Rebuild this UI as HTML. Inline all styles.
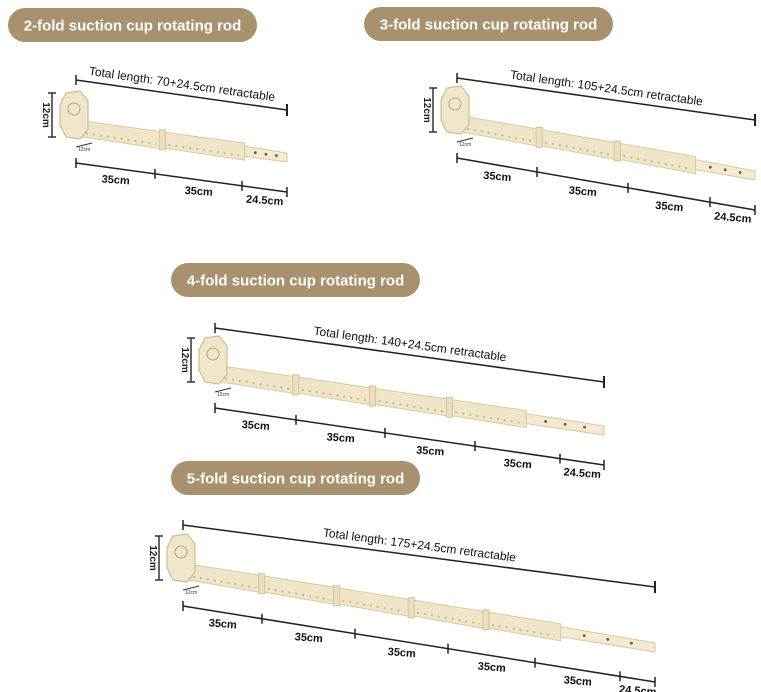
<!DOCTYPE html>
<html><head><meta charset="utf-8"><style>
html,body{margin:0;padding:0;background:#fff;width:761px;height:692px;overflow:hidden}
svg{display:block}
text{font-family:"Liberation Sans",sans-serif}
</style></head><body>
<svg id="s" width="761" height="692" viewBox="0 0 761 692" xmlns="http://www.w3.org/2000/svg"></svg>
<script>
const titles=["2-fold suction cup rotating rod","3-fold suction cup rotating rod","4-fold suction cup rotating rod","5-fold suction cup rotating rod"];
const totals=["Total length: 70+24.5cm retractable","Total length: 105+24.5cm retractable","Total length: 140+24.5cm retractable","Total length: 175+24.5cm retractable"];
const segCounts=[2,3,4,5];
// layout geometry
const pills=[[8,8],[364,7],[171,263],[171,461]];
const geo=[
 {x0:76,x1:287,ty0:80,ty1:110,by0:163,by1:192,ticks:[155,242]},
 {x0:457,x1:755,ty0:78,ty1:120,by0:158,by1:210,ticks:[537,628,710]},
 {x0:215,x1:604,ty0:328,ty1:382,by0:408,by1:465,ticks:[296,385,475,560]},
 {x0:183,x1:655,ty0:525,ty1:587,by0:606,by1:682,ticks:[262,355,448,535,620]}
];
const NS="http://www.w3.org/2000/svg";
const s=document.getElementById('s');
function mk(tag,at,parent){const e=document.createElementNS(NS,tag);for(const k in at)e.setAttribute(k,at[k]);(parent||s).appendChild(e);return e;}
geo.forEach((g,i)=>{
 const grp=mk('g',{});
 
 
 const [px,py]=pills[i];
 const pill=mk('rect',{x:px,y:py,width:249,height:34,rx:17,fill:'#a8916f'},grp);
 
 
 const tt=mk('text',{x:px+124.5,y:py+22.5,'text-anchor':'middle','font-size':'15','font-weight':'bold',fill:'#fff'},grp);
 tt.textContent=titles[i];
 
 
 const ts=(g.ty1-g.ty0)/(g.x1-g.x0), bs=(g.by1-g.by0)/(g.x1-g.x0);
 const ty=x=>g.ty0+ts*(x-g.x0), by=x=>g.by0+bs*(x-g.x0);
 mk('line',{x1:g.x0,y1:g.ty0,x2:g.x1,y2:g.ty1,stroke:'#222','stroke-width':1.5},grp);
 mk('line',{x1:g.x0,y1:g.ty0-5,x2:g.x0,y2:g.ty0+5,stroke:'#222','stroke-width':1.5},grp);
 mk('line',{x1:g.x1,y1:g.ty1-6,x2:g.x1,y2:g.ty1+6,stroke:'#222','stroke-width':2},grp);
 const ang=Math.atan(ts)*180/Math.PI;
 const lx=g.x0+(g.x1-g.x0)*0.5;
 const tl=mk('text',{x:lx,y:ty(lx)-7,'text-anchor':'middle','font-size':'12',fill:'#111',transform:`rotate(${ang} ${lx} ${ty(lx)-7})`},grp);
 tl.textContent=totals[i];
 
 
 // rod
 const rs=g.x0+4, re=g.x1, tipStart=g.x1-(g.x1-g.x0)*0.2;
 const ry=x=>by(x)-36;
 const n=segCounts[i];
 const segW=(tipStart-rs)/n;
 mk('polygon',{points:`${tipStart},${ry(tipStart)-4} ${re},${ry(re)-3} ${re},${ry(re)+6} ${tipStart},${ry(tipStart)+6}`,fill:'#f2ead2',stroke:'#d6c9a3'},grp);
 [0.25,0.5,0.75].forEach(f=>{const x=tipStart+(re-tipStart)*f;mk('circle',{cx:x,cy:ry(x)+1,r:1.4,fill:'#6b5a3e'},grp);});
 for(let k=0;k<n;k++){
  const a=rs+k*segW,b=a+segW;
  const seg=mk('polygon',{points:`${a},${ry(a)-7} ${b},${ry(b)-7} ${b},${ry(b)+10} ${a},${ry(a)+9}`,fill:'#efe5c9',stroke:'#d8cba3'},grp);
  
  
  mk('line',{x1:a+6,y1:ry(a+6)+5,x2:b-6,y2:ry(b-6)+6,stroke:'#c9b98e','stroke-width':2,'stroke-dasharray':'2 5'},grp);
  if(k>0) mk('rect',{x:a-3,y:ry(a)-9,width:6,height:20,fill:'#ebdfbf',stroke:'#d2c49c'},grp);
 }
 const cx=g.x0-2, cy=ry(g.x0)-12;
 const cup=mk('polygon',{points:`${cx-8},${cy-22} ${cx+6},${cy-24} ${cx+14},${cy-14} ${cx+14},${cy+14} ${cx+6},${cy+24} ${cx-8},${cy+22} ${cx-14},${cy+10} ${cx-14},${cy-10}`,fill:'#efe6cc',stroke:'#cdbd92','stroke-width':1.2},grp);
 
 
 mk('circle',{cx:cx,cy:cy-6,r:6,fill:'none',stroke:'#b8a57a','stroke-width':1},grp);
 const vx=cx-22;
 mk('line',{x1:vx,y1:cy-22,x2:vx,y2:cy+22,stroke:'#333','stroke-width':1.5},grp);
 mk('line',{x1:vx-4,y1:cy-22,x2:vx+4,y2:cy-22,stroke:'#333','stroke-width':1.5},grp);
 mk('line',{x1:vx-4,y1:cy+22,x2:vx+4,y2:cy+22,stroke:'#333','stroke-width':1.5},grp);
 const v=mk('text',{x:vx-9,y:cy,'text-anchor':'middle','font-size':'10','font-weight':'bold',fill:'#222',transform:`rotate(90 ${vx-9} ${cy})`},grp);
 v.textContent='12cm';
 mk('line',{x1:g.x0,y1:by(g.x0)-16,x2:g.x0+16,y2:by(g.x0)-20,stroke:'#333'},grp);
 mk('text',{x:g.x0+2,y:by(g.x0)-12,'font-size':'5',fill:'#333'},grp).textContent='12cm';
 mk('line',{x1:g.x0,y1:g.by0,x2:g.x1,y2:g.by1,stroke:'#222','stroke-width':1.5},grp);
 const pts=[g.x0].concat(g.ticks,[g.x1]);
 pts.forEach(x=>mk('line',{x1:x,y1:by(x)-5,x2:x,y2:by(x)+5,stroke:'#222','stroke-width':1.5},grp));
 for(let k=0;k<pts.length-1;k++){
  const mx=(pts[k]+pts[k+1])/2;
  const last=k==pts.length-2;
  const t=mk('text',{x:mx,y:by(mx)+15,'text-anchor':'middle','font-size':'11','font-weight':'bold',fill:'#111',transform:`rotate(${Math.atan(bs)*180/Math.PI*0.5} ${mx} ${by(mx)+15})`},grp);
  t.textContent=last?'24.5cm':'35cm';
  
  
 }
});
</script>
</body></html>
